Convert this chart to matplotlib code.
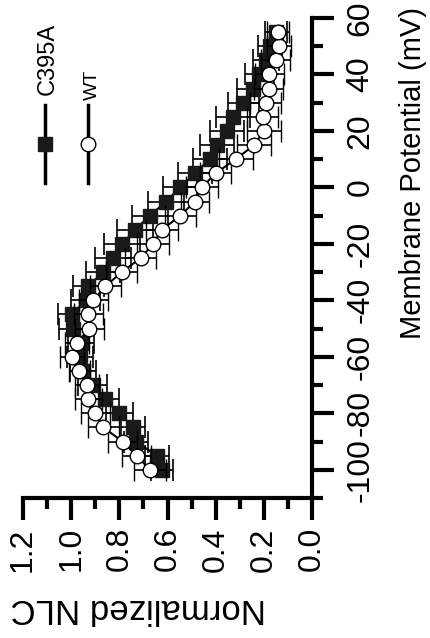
import matplotlib
matplotlib.use("Agg")
import matplotlib.pyplot as plt
from matplotlib.ticker import MultipleLocator

plt.rcParams['font.family'] = ['Liberation Sans Narrow', 'Liberation Sans', 'DejaVu Sans']
plt.rcParams['axes.unicode_minus'] = False

# membrane potential (mV)
potential = [-100, -95, -90, -85, -80, -75, -70, -65, -60, -55, -50, -45, -40, -35, -30, -25,
             -20, -15, -10, -5, 0, 5, 10, 15, 20, 25, 30, 35, 40, 45, 50, 55]

wt_nlc = [0.673, 0.728, 0.786, 0.867, 0.900, 0.929, 0.936, 0.966, 0.998, 0.975, 0.925, 0.929,
          0.908, 0.858, 0.790, 0.711, 0.660, 0.623, 0.547, 0.486, 0.457, 0.400, 0.317, 0.240,
          0.200, 0.205, 0.192, 0.179, 0.177, 0.150, 0.137, 0.142]
wt_err = [0.065, 0.060, 0.060, 0.065, 0.060, 0.055, 0.050, 0.045, 0.050, 0.050, 0.060, 0.060,
          0.060, 0.065, 0.065, 0.065, 0.065, 0.065, 0.065, 0.060, 0.065, 0.065, 0.070, 0.070,
          0.070, 0.065, 0.065, 0.060, 0.060, 0.060, 0.050, 0.045]

c395a_nlc = [0.624, 0.645, 0.731, 0.742, 0.800, 0.860, 0.911, 0.950, 0.963, 0.960, 0.991, 0.995,
             0.940, 0.929, 0.867, 0.825, 0.788, 0.735, 0.673, 0.606, 0.548, 0.487, 0.424, 0.393,
             0.352, 0.327, 0.285, 0.246, 0.219, 0.192, 0.174, 0.150]
c395a_err = [0.045, 0.050, 0.050, 0.050, 0.055, 0.060, 0.060, 0.055, 0.055, 0.055, 0.060, 0.060,
             0.060, 0.065, 0.070, 0.075, 0.075, 0.075, 0.075, 0.075, 0.070, 0.070, 0.070, 0.070,
             0.070, 0.070, 0.065, 0.065, 0.060, 0.055, 0.050, 0.045]

fig = plt.figure(figsize=(4.31, 6.38), dpi=100)
ax = fig.add_axes([23 / 431, 140 / 638, 289 / 431, 480 / 638])

# figure is drawn rotated: NLC runs horizontally (reversed), potential vertically
ax.errorbar(c395a_nlc, potential, xerr=c395a_err, color='black', lw=1.5, elinewidth=1.2,
            capsize=8, capthick=1.2, marker='s', ms=9.5, mfc='#1a1a1a', mec='#1a1a1a',
            zorder=2)
ax.errorbar(wt_nlc, potential, xerr=wt_err, color='black', lw=1.5, elinewidth=1.2,
            capsize=8, capthick=1.2, marker='o', ms=10.5, mfc='white', mec='black', mew=1.0,
            zorder=3)

ax.set_xlim(1.2, 0)
ax.set_ylim(-110, 60)

for s in ['top', 'left']:
    ax.spines[s].set_visible(False)
for s in ['bottom', 'right']:
    ax.spines[s].set_linewidth(3)

ax.xaxis.set_major_locator(MultipleLocator(0.2))
ax.xaxis.set_minor_locator(MultipleLocator(0.1))
ax.yaxis.set_major_locator(MultipleLocator(20))
ax.yaxis.set_minor_locator(MultipleLocator(10))
ax.yaxis.tick_right()
ax.tick_params(axis='both', which='major', direction='out', length=16, width=3, labelsize=23)
ax.tick_params(axis='x', which='major', pad=5)
ax.tick_params(axis='y', which='major', pad=8)
ax.tick_params(axis='both', which='minor', direction='out', length=8, width=3)
ax.tick_params(axis='x', labelrotation=90)
ax.tick_params(axis='y', labelrotation=90)
ax.set_xticks([0, 0.2, 0.4, 0.6, 0.8, 1.0, 1.2])
ax.set_xticklabels(['0.0', '0.2', '0.4', '0.6', '0.8', '1.0', '1.2'])
for lab in ax.get_yticklabels():
    lab.set_va('center')

ax.text(0.398, -0.23, 'Normalized NLC', transform=ax.transAxes, rotation=180,
        ha='center', va='center', fontsize=25)
ax.text(1.35, 0.677, 'Membrane Potential (mV)', transform=ax.transAxes, rotation=90,
        ha='center', va='center', fontsize=21)

# hand-made legend, rotated like the rest of the figure
ax.plot([0.076, 0.076], [0.656, 0.819], transform=ax.transAxes, color='black', lw=2.5,
        clip_on=False)
ax.plot([0.076], [0.7375], transform=ax.transAxes, marker='s', ms=9.5, color='#1a1a1a',
        clip_on=False)
ax.plot([0.225, 0.225], [0.656, 0.819], transform=ax.transAxes, color='black', lw=2.5,
        clip_on=False)
ax.plot([0.225], [0.7375], transform=ax.transAxes, marker='o', ms=10.5, mfc='white',
        mec='black', mew=1.0, clip_on=False)
ax.text(0.087, 0.84, 'C395A', transform=ax.transAxes, rotation=90, ha='center', va='bottom',
        fontsize=17)
ax.text(0.239, 0.829, 'WT', transform=ax.transAxes, rotation=90, ha='center', va='bottom',
        fontsize=14)

fig.savefig('out.png', dpi=100)
